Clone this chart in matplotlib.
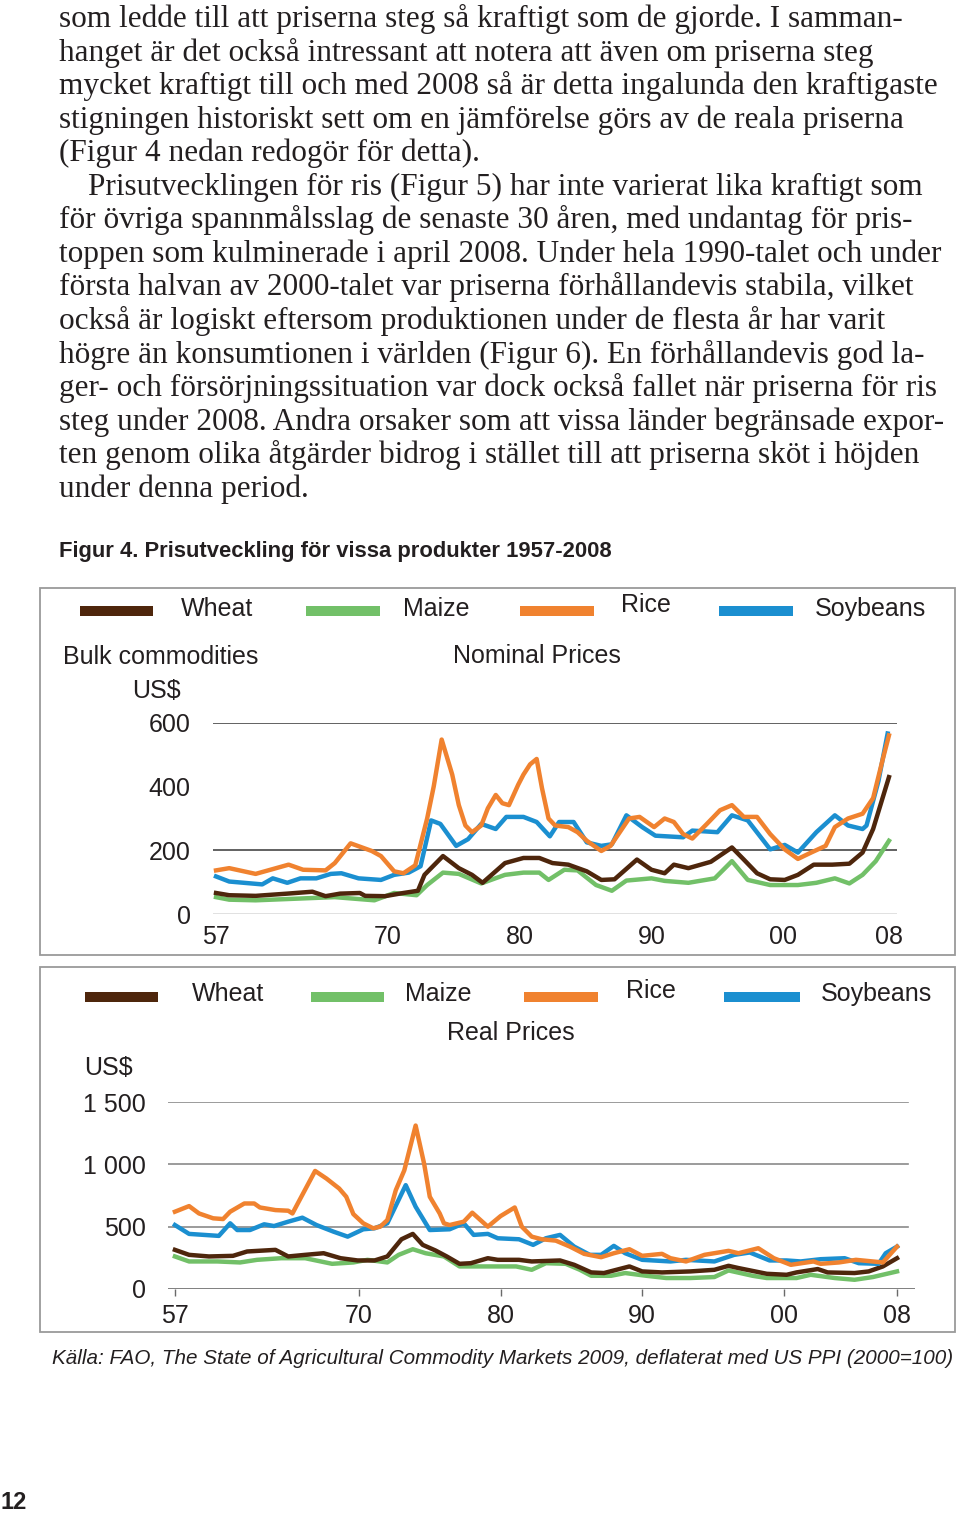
import matplotlib
matplotlib.use('Agg')
import matplotlib.pyplot as plt
from matplotlib.patches import Rectangle

W, H = 960, 1514

# body text lines
body_lines = [
    "som ledde till att priserna steg så kraftigt som de gjorde. I samman-",
    "hanget är det också intressant att notera att även om priserna steg",
    "mycket kraftigt till och med 2008 så är detta ingalunda den kraftigaste",
    "stigningen historiskt sett om en jämförelse görs av de reala priserna",
    "(Figur 4 nedan redogör för detta).",
    "Prisutvecklingen för ris (Figur 5) har inte varierat lika kraftigt som",
    "för övriga spannmålsslag de senaste 30 åren, med undantag för pris-",
    "toppen som kulminerade i april 2008. Under hela 1990-talet och under",
    "första halvan av 2000-talet var priserna förhållandevis stabila, vilket",
    "också är logiskt eftersom produktionen under de flesta år har varit",
    "högre än konsumtionen i världen (Figur 6). En förhållandevis god la-",
    "ger- och försörjningssituation var dock också fallet när priserna för ris",
    "steg under 2008. Andra orsaker som att vissa länder begränsade expor-",
    "ten genom olika åtgärder bidrog i stället till att priserna sköt i höjden",
    "under denna period.",
]
caption = "Figur 4. Prisutveckling för vissa produkter 1957-2008"
source = "Källa: FAO, The State of Agricultural Commodity Markets 2009, deflaterat med US PPI (2000=100)"

series_names = ["Wheat", "Maize", "Rice", "Soybeans"]
tick_years = [1957, 1970, 1980, 1990, 2000, 2008]
tick_labels = ["57", "70", "80", "90", "00", "08"]

# Nominal prices (US$)
wheat_nom_x = [1957, 1958, 1960, 1962.4, 1964.3, 1965.3, 1966.4, 1967.9, 1968.3, 1969.8, 1971.2, 1972.3, 1972.8, 1974.2, 1975.4,
               1976.4, 1977.2, 1978.9, 1980.3, 1981.5, 1982.5, 1983.7, 1985.1, 1986.2, 1987.2, 1988.9, 1990, 1991, 1991.7, 1992.8,
               1994.5, 1996.1, 1997, 1998, 1999, 2000.1, 2001.1, 2002.3, 2003.7, 2005, 2006, 2006.8, 2008]
wheat_nom_y = [66, 59, 57, 64, 70, 56, 64, 66, 57, 56, 66, 73, 123, 182, 144,
               123, 98, 160, 176, 176, 160, 155, 134, 107, 109, 171, 139, 128, 155, 144,
               164, 209, 171, 128, 109, 107, 123, 155, 155, 158, 193, 267, 430]
maize_nom_x = [1957, 1958, 1960, 1963, 1966, 1969, 1970.5, 1972.2, 1973, 1974.2, 1975.4, 1977.1, 1978.9, 1980.3, 1981.5,
               1982.2, 1983.4, 1984.4, 1985.8, 1987, 1988.1, 1990, 1991, 1992.8, 1994.8, 1996.1, 1997.3, 1999, 2001.1, 2002.5,
               2003.9, 2005, 2006, 2007, 2008]
maize_nom_y = [53, 45, 43, 48, 53, 43, 66, 59, 91, 130, 126, 96, 123, 130, 130,
               107, 139, 137, 91, 73, 105, 112, 104, 98, 112, 166, 107, 91, 91, 98,
               112, 96, 123, 166, 230]
rice_nom_x = [1957, 1958, 1960, 1962.5, 1963.6, 1965.3, 1966, 1967.2, 1968.8, 1969.5, 1970.5, 1971.2, 1972.1, 1973, 1973.5,
              1974.1, 1974.9, 1975.4, 1975.9, 1976.4, 1977.1, 1977.6, 1978.2, 1978.7, 1979.2, 1979.9, 1980.3, 1980.8, 1981.3, 1981.7,
              1982.2, 1982.7, 1983.7, 1984.4, 1985.1, 1986.2, 1986.9, 1987.6, 1988.3, 1989.1, 1990.2, 1991, 1991.7, 1992.4, 1993.1,
              1994.2, 1995.2, 1996.1, 1997, 1998, 1999, 2000.1, 2001.1, 2002.1, 2003.2, 2003.9, 2004.9, 2006, 2006.8, 2007.5, 2008]
rice_nom_y = [137, 144, 126, 155, 139, 137, 160, 222, 198, 182, 134, 128, 153, 300, 401,
              548, 438, 342, 278, 257, 278, 332, 374, 348, 342, 406, 438, 470, 487, 396,
              300, 278, 273, 257, 230, 198, 214, 257, 300, 305, 273, 300, 289, 251, 237,
              283, 326, 342, 305, 305, 251, 203, 173, 193, 214, 273, 300, 315, 364, 481, 561]
soy_nom_x = [1957, 1958, 1960.5, 1961.3, 1962.4, 1963.4, 1964.6, 1965.7, 1966.5, 1967.8, 1969.5, 1970.5, 1971.6, 1972.5, 1973.3,
             1974, 1975.2, 1976.1, 1977.1, 1978.2, 1979, 1980.3, 1981.3, 1982.3, 1983, 1984.1, 1985.1, 1986.2, 1987, 1988.1,
             1989.3, 1990.3, 1992.4, 1993.1, 1995, 1996.1, 1997.3, 1999, 2000.1, 2001.1, 2002.5, 2003.9, 2004.9, 2006, 2006.3,
             2007.2, 2007.9]
soy_nom_y = [118, 102, 93, 112, 98, 112, 112, 126, 128, 112, 107, 123, 130, 150, 294,
             283, 214, 235, 283, 267, 305, 305, 289, 244, 289, 289, 225, 214, 219, 310,
             273, 246, 241, 262, 257, 310, 294, 203, 217, 193, 257, 310, 278, 267, 278,
             417, 567]

# Real prices (US$, deflated)
wheat_real_x = [1957, 1958, 1959.4, 1961.1, 1962.1, 1964.1, 1965, 1966.2, 1967.5, 1968.7, 1969.9, 1971.1, 1972, 1973, 1973.8,
                1974.5, 1975.4, 1976.2, 1977.1, 1977.9, 1979.1, 1979.8, 1981.3, 1982.2, 1984.2, 1985.2, 1986.4, 1987.3, 1989.1, 1990,
                1991.4, 1993.4, 1995.1, 1996.1, 1996.8, 1998.8, 2000.2, 2000.9, 2002.4, 2003.1, 2005, 2006, 2007, 2008]
wheat_real_y = [314, 274, 261, 266, 301, 314, 261, 274, 287, 247, 229, 229, 261, 399, 442,
                354, 309, 261, 202, 207, 247, 234, 234, 221, 229, 194, 133, 128, 181, 141,
                133, 141, 154, 186, 168, 122, 114, 133, 160, 133, 128, 141, 181, 247]
maize_real_x = [1957, 1958, 1960, 1961.6, 1962.8, 1964.5, 1966.2, 1968.1, 1969.6, 1970.6, 1972, 1972.8, 1973.8, 1974.7, 1976,
                1977.1, 1979.1, 1981.1, 1982.2, 1983.2, 1984.6, 1985.6, 1986.4, 1987.8, 1988.8, 1990.3, 1991.7, 1993.4, 1995.1, 1996.1,
                1997.8, 1998.8, 2000.9, 2001.9, 2003.6, 2005, 2006.3, 2008]
maize_real_y = [261, 221, 221, 213, 234, 247, 247, 202, 213, 234, 213, 274, 319, 287, 261,
                181, 181, 181, 154, 207, 202, 154, 106, 106, 128, 106, 88, 88, 96, 149,
                106, 88, 88, 114, 88, 74, 96, 141]
rice_real_x = [1957, 1958, 1958.7, 1959.7, 1960.4, 1960.9, 1961.9, 1962.6, 1963, 1964.1, 1965, 1965.3, 1965.8, 1966.9, 1967.7,
               1968.6, 1969.1, 1969.6, 1970.3, 1971, 1971.5, 1972, 1972.6, 1973.2, 1974, 1974.6, 1975, 1975.7, 1976, 1976.4,
               1977.4, 1978, 1979.1, 1980, 1981, 1981.5, 1982.2, 1982.9, 1983.9, 1984.9, 1985.9, 1987.1, 1988, 1989.1, 1990,
               1991.4, 1992, 1993.1, 1994.4, 1996.1, 1996.8, 1998.2, 1999.3, 2000.5, 2002.1, 2002.6, 2003.9, 2005.1, 2007, 2008]
rice_real_y = [620, 665, 606, 567, 561, 620, 686, 686, 654, 633, 628, 606, 713, 947, 886,
               806, 740, 601, 527, 487, 500, 553, 793, 952, 1311, 1005, 740, 606, 527, 513,
               540, 612, 500, 585, 654, 500, 420, 399, 388, 340, 282, 255, 287, 319, 266,
               282, 247, 221, 274, 306, 287, 327, 247, 194, 221, 202, 213, 234, 213, 340]
soy_real_x = [1957, 1958, 1960.1, 1960.9, 1961.4, 1962.3, 1963.3, 1964, 1965, 1966, 1967, 1968.2, 1969.2, 1970.3, 1971.1,
              1972, 1973.3, 1974, 1975, 1976.4, 1977.4, 1978.1, 1979.1, 1979.8, 1981.3, 1982.3, 1983.2, 1984.2, 1985.2, 1986.3,
              1987.1, 1988, 1988.8, 1990, 1992, 1993.1, 1995.1, 1996.5, 1997.6, 1999, 2000.2, 2001.2, 2002.6, 2004.3, 2005.3,
              2006.7, 2007.2, 2008]
soy_real_y = [513, 442, 426, 527, 473, 473, 519, 505, 540, 572, 513, 460, 420, 479, 487,
              527, 833, 660, 473, 479, 527, 434, 442, 407, 399, 354, 407, 434, 340, 274,
              274, 346, 287, 234, 221, 234, 221, 274, 293, 229, 229, 221, 239, 247, 207,
              202, 287, 340]

colors = {"Wheat": "#4e260c", "Maize": "#72c068", "Rice": "#f0822f", "Soybeans": "#1b8fd0"}

serif = ['Liberation Serif', 'DejaVu Serif']
sans = ['Liberation Sans', 'DejaVu Sans']


def fx(x):
    return x / W


def fy(y):
    return 1 - y / H


def put(x, y, s, **kw):
    fig.text(fx(x), fy(y), s, **kw)


def add_axes(left, right, top, bottom):
    return fig.add_axes([fx(left), fy(bottom), (right - left) / W, (bottom - top) / H])


fig = plt.figure(figsize=(W / 100, H / 100), dpi=100)

# body text
for i, line in enumerate(body_lines):
    x = 88 if i == 5 else 59
    put(x, 27 + 33.55 * i, line, family=serif, fontsize=22.5, color='#231f20', va='baseline')

put(59, 557, caption, family=sans, fontsize=15.8, fontweight='bold', color='#231f20', va='baseline')
put(52, 1364, source, family=sans, fontsize=14.9, style='italic', color='#231f20', va='baseline')
put(0, 1509, "12", family=sans, fontsize=17, fontweight='bold', color='#231f20', va='baseline')

# frames
for top, bottom in [(588, 955), (967, 1332)]:
    fig.add_artist(Rectangle((fx(40), fy(bottom)), (955 - 40) / W, (bottom - top) / H,
                             transform=fig.transFigure, fill=False, edgecolor='#9a9a9a', lw=1.3))


def legend_row(xs, y_sw, y_txt):
    for name, (x0, x1, xt, yt_off) in zip(series_names, xs):
        fig.add_artist(Rectangle((fx(x0), fy(y_sw + 5)), (x1 - x0) / W, 10 / H,
                                 transform=fig.transFigure, color=colors[name], lw=0))
        put(xt, y_txt + yt_off, name, family=sans, fontsize=18, color='#231f20', va='center')


# ---- top chart: nominal prices
legend_row([(80, 153, 181, 0), (306, 380, 403, 0), (520, 594, 621, -4), (719, 793, 815, 0)], 611, 609)
put(63, 657, "Bulk commodities", family=sans, fontsize=18, color='#231f20', va='center')
put(453, 656, "Nominal Prices", family=sans, fontsize=18, color='#231f20', va='center')
put(132, 691, "US$", family=sans, fontsize=18, color='#231f20', va='center')

ax1 = add_axes(213, 897, 723, 914)
ax1.plot(maize_nom_x, maize_nom_y, color=colors["Maize"], lw=3.2, clip_on=False)
ax1.plot(wheat_nom_x, wheat_nom_y, color=colors["Wheat"], lw=3.2, clip_on=False)
ax1.plot(soy_nom_x, soy_nom_y, color=colors["Soybeans"], lw=3.2, clip_on=False)
ax1.plot(rice_nom_x, rice_nom_y, color=colors["Rice"], lw=3.2, clip_on=False)
ax1.set_xlim(1956.77, 2008.61)
ax1.set_ylim(0, 600)
for v in [600, 200]:
    ax1.axhline(v, color='#555555', lw=1.3, zorder=0)
ax1.axhline(0, color='#6a6a6a', lw=1.0, zorder=0)
for s in ax1.spines.values():
    s.set_visible(False)
ax1.set_yticks([0, 200, 400, 600])
ax1.set_yticklabels(["0", "200", "400", "600"], family=sans, fontsize=18, color='#231f20')
ax1.set_xticks(tick_years)
ax1.set_xticklabels(tick_labels, family=sans, fontsize=18, color='#231f20')
ax1.tick_params(axis='y', length=0, pad=16)
ax1.tick_params(axis='x', length=0, pad=8)
ax1.patch.set_visible(False)

# ---- bottom chart: real prices
legend_row([(85, 158, 192, 0), (311, 384, 405, 0), (524, 598, 626, -3), (724, 800, 821, 0)], 997, 994)
put(447, 1033, "Real Prices", family=sans, fontsize=18, color='#231f20', va='center')
put(84, 1068, "US$", family=sans, fontsize=18, color='#231f20', va='center')

ax2 = add_axes(168, 915, 1102, 1289)
ax2.plot(maize_real_x, maize_real_y, color=colors["Maize"], lw=3.2, clip_on=False)
ax2.plot(wheat_real_x, wheat_real_y, color=colors["Wheat"], lw=3.2, clip_on=False)
ax2.plot(soy_real_x, soy_real_y, color=colors["Soybeans"], lw=3.2, clip_on=False)
ax2.plot(rice_real_x, rice_real_y, color=colors["Rice"], lw=3.2, clip_on=False)
ax2.set_xlim(1956.51, 2009.27)
ax2.set_ylim(0, 1500)
for v in [500, 1000, 1500]:
    ax2.axhline(v, xmin=0, xmax=(908 - 168) / (915 - 168), color='#8a8a8a', lw=1.2, zorder=0)
ax2.axhline(0, color='#6a6a6a', lw=1.2, zorder=0)
for s in ax2.spines.values():
    s.set_visible(False)
ax2.set_yticks([0, 500, 1000, 1500])
ax2.set_yticklabels(["0", "500", "1 000", "1 500"], family=sans, fontsize=18, color='#231f20')
ax2.set_xticks(tick_years)
ax2.set_xticklabels(tick_labels, family=sans, fontsize=18, color='#231f20')
ax2.tick_params(axis='y', length=0, pad=16)
ax2.tick_params(axis='x', length=5, width=1, color='#6a6a6a', pad=6)
ax2.patch.set_visible(False)

fig.savefig('out.png', dpi=100)
